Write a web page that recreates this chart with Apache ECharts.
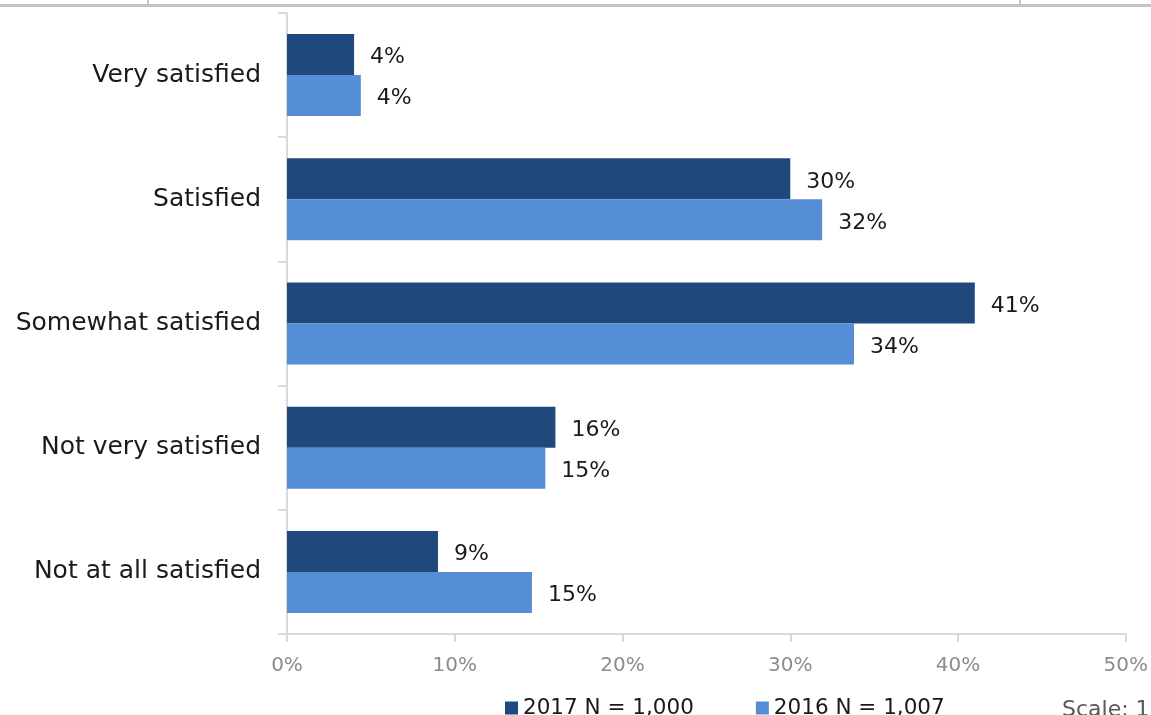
<!DOCTYPE html>
<html>
<head>
<meta charset="utf-8">
<script src="https://cdn.jsdelivr.net/npm/echarts@6/dist/echarts.min.js"></script>
<style>
  html, body { margin: 0; padding: 0; background: #ffffff; }
  #chart { width: 1151px; height: 715px; }
</style>
</head>
<body>
<div id="chart"></div>
<script>
// Satisfaction levels, top to bottom
const categories = ['Very satisfied', 'Satisfied', 'Somewhat satisfied', 'Not very satisfied', 'Not at all satisfied'];
// Share of respondents (%) per survey year
const values2017 = [4.0, 30.0, 41.0, 16.0, 9.0];
const values2016 = [4.4, 31.9, 33.8, 15.4, 14.6];
const seriesNames = ['2017 N = 1,000', '2016 N = 1,007'];
const xTicks = [0, 10, 20, 30, 40, 50];

const FONT = '"DejaVu Sans", "Liberation Sans", sans-serif';
const DARK = '#1f497d';
const LIGHT = '#558ed5';

const chart = echarts.init(document.getElementById('chart'));

const labelStyle = {
  show: true,
  position: 'right',
  distance: 16,
  offset: [0, 3],
  color: '#1a1a1a',
  fontFamily: FONT,
  fontSize: 22,
  formatter: p => Math.round(p.value) + '%'
};

chart.setOption({
  animation: false,
  backgroundColor: '#ffffff',
  textStyle: { fontFamily: FONT },
  grid: { left: 287, right: 25, top: 13, bottom: 81, containLabel: false },
  legend: {
    data: seriesNames,
    left: 500,
    top: 692,
    icon: 'rect',
    itemWidth: 13,
    itemHeight: 13,
    itemGap: 62,
    textStyle: { color: '#1a1a1a', fontSize: 21.5, fontFamily: FONT }
  },
  xAxis: {
    type: 'value',
    min: xTicks[0],
    max: xTicks[xTicks.length - 1],
    interval: xTicks[1] - xTicks[0],
    axisLine: { show: true, lineStyle: { color: '#d9d9d9', width: 2 } },
    axisTick: { show: true, length: 8, lineStyle: { color: '#d9d9d9', width: 2 } },
    splitLine: { show: false },
    axisLabel: {
      color: '#8c8c8c',
      fontSize: 20,
      fontFamily: FONT,
      margin: 22,
      formatter: v => v + '%'
    }
  },
  yAxis: {
    type: 'category',
    data: categories,
    inverse: true,
    axisLine: { show: true, lineStyle: { color: '#d9d9d9', width: 2 } },
    axisTick: { show: true, length: 9, lineStyle: { color: '#d9d9d9', width: 2 } },
    axisLabel: {
      color: '#1a1a1a',
      fontSize: 25,
      fontFamily: FONT,
      margin: 26,
      padding: [8, 0, 0, 0]
    }
  },
  series: [
    {
      name: seriesNames[0],
      type: 'bar',
      data: values2017,
      itemStyle: { color: DARK },
      barGap: '0%',
      barCategoryGap: '34%',
      label: labelStyle
    },
    {
      name: seriesNames[1],
      type: 'bar',
      data: values2016,
      itemStyle: { color: LIGHT },
      barGap: '0%',
      barCategoryGap: '34%',
      label: labelStyle
    }
  ],
  graphic: [
    { type: 'rect', shape: { x: 0, y: 4, width: 1151, height: 3 }, style: { fill: '#c4c4c4' } },
    { type: 'rect', shape: { x: 147, y: 0, width: 2, height: 5 }, style: { fill: '#c4c4c4' } },
    { type: 'rect', shape: { x: 1019, y: 0, width: 2, height: 5 }, style: { fill: '#c4c4c4' } },
    {
      type: 'text',
      left: 1062,
      top: 699,
      style: { text: 'Scale: 1', fill: '#595959', font: '22px ' + FONT }
    }
  ]
});
</script>
</body>
</html>
